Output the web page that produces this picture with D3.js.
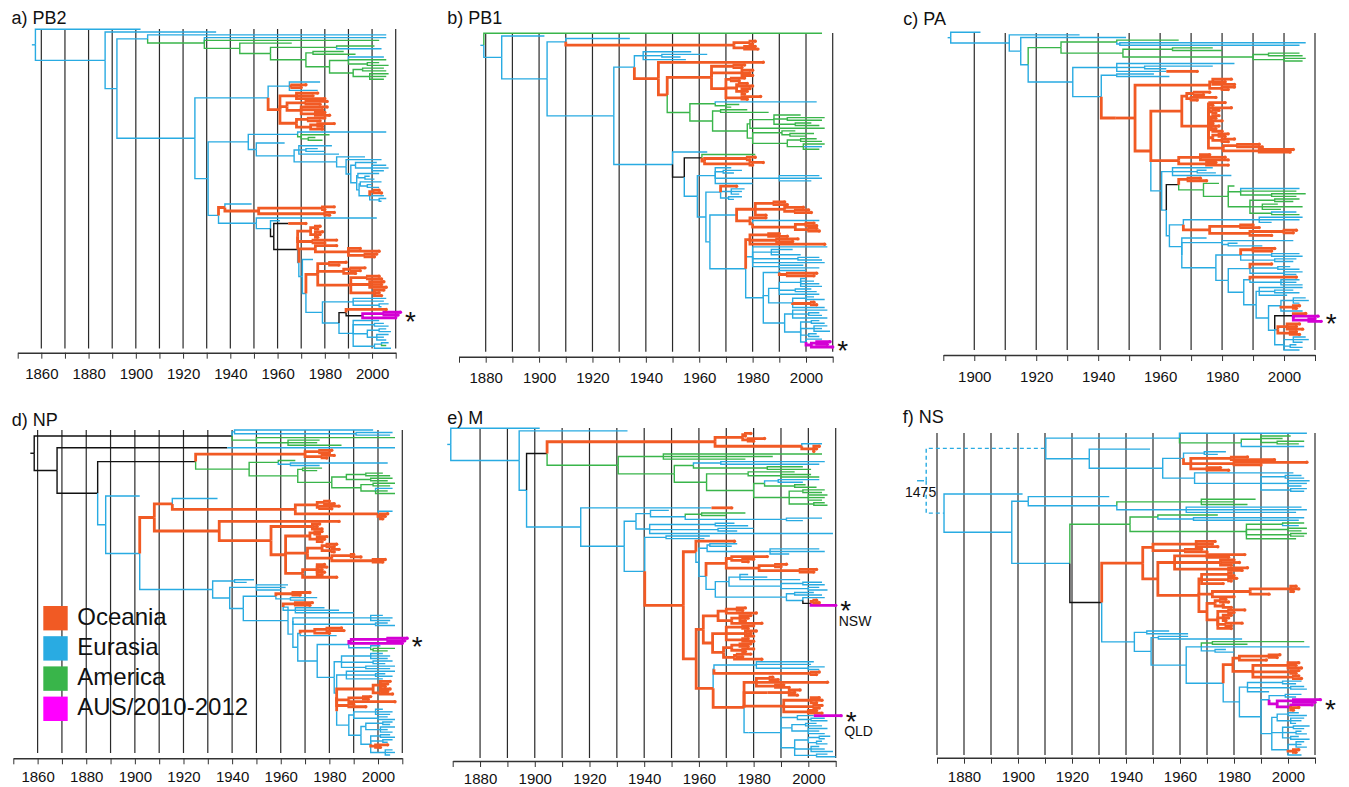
<!DOCTYPE html>
<html>
<head>
<meta charset="utf-8">
<script src="https://cdn.jsdelivr.net/npm/d3@7"></script>
<style>
  body { margin: 0; background: #fff; }
  svg { display: block; }
</style>
</head>
<body>
<svg id="chart" width="1349" height="787"></svg>
<script>
// ---- data ----
// trees are written newick-style: (child,child)xYEAR, x = region of the branch
// o Oceania, b Eurasia, g America, m AUS/2010-2012, k unresolved (black)
var panelTitles = ["a) PB2", "b) PB1", "c) PA", "d) NP", "e) M", "f) NS"];
var panelDomains = [[1850, 2010], [1870, 2010], [1890, 2010], [1850, 2010], [1870, 2010], [1870, 2010]];
var gridStarts = [1860, 1880, 1900, 1860, 1880, 1870];
var regions = ["Oceania", "Eurasia", "America", "AUS/2010-2012"];
var regionCodes = ["o", "b", "g", "m"];
var cladeNotes = [[], [], [], [], ["NSW", "QLD"], []];
var nsRootLabel = "1475";

// PB2
var pb2Green = `(b2006,(b2006,g2003,(g1966,((g2001,b2004)g1985,((g1988,g1993)g1975,((b2005,g2006,(g2003,g2007)g1998)g1990,((g2005,g2006)g1996,(g2007,g2006,g2005)g1999)g1992)g1982)g1972)g1957)g1944)g1929)b1905`;
var pb2Red1 = `((b1978,(o1972,o1970)o1966,b1977)b1965,((o1977,o1975,o1980)o1968,((o1981,o1978)o1972,(o1981,o1979,(o1980,o1982)o1976)o1970)o1964,((o1980,o1978)o1973,((o1984,o1979)o1977,o1979)o1974)o1968)o1961)b1956`;
var pb2Blue1 = `((b2006,(g1982,(g1976,g1979)g1973)g1970)b1968.5,(b1963,((b1983,(b1977,b1980)b1972,b1986)b1969,(b1997,(b2004,((b2002,(b2006,b2007,b2005)b2000)b1993,((b2003,(b1999,b2001)b1997)b1994,((b2004,(b2000,b2003)b1998)b1995,((o2003,o2004)o2001,b2005,(b2006,b2004)b2003)b1999)b1994.5)b1993.5)b1991)b1989)b1985)b1967)b1951)b1947.6`;
var pb2Red2 = `(b1949,((o1984,o1980)o1979,(o1984,o1982)o1980)o1952)o1937.7`;
var pb2Red3 = `(((o1978,o1977)o1976,(o1979,o1978,o1977)o1976)o1974,(o1985,o1980)o1975)o1968.5`;
var pb2Blue2 = `((o1985,(o1995,o2003,(o2002,o2001)o1997)o1990)o1976,(b1975,(((o1989,o1986)o1982,((o1997,o1995)o1991,o1993)o1988,((o2003,o2004)o1998,(o2005,o2004,o2006)o1999,(o2005,o2003,o2004)o2001)o1991)o1977,((b2006,b2005,(b2007,b2004)b2003)b1992,((o2006,(((m2012,m2011)m2005,m2010)m1996)k1996)k1989,(b2003,(b2005,b2007)b2001,((b2006,b2008)b2003,(b2007,b2005,b2006)b2002)b1998,((b2007,g2006)b2004,b2008)b2001)b1992)b1986)b1979)b1972)b1970.5)b1969`;
var pb2Low = `(b2002,(b1961,((o1972)k1964.5,(${pb2Red3},${pb2Blue2})k1968.5)k1958.4)b1957)b1951`;
var pb2Tree = `((b1902,(b1934,(${pb2Green},(${pb2Red1},(${pb2Blue1},(${pb2Red2},${pb2Low})b1935)b1930.6)b1925)b1892)b1887)b1857.5)b1856`;

// PB1
var pb1Green = `((b2004,(g1975,g1972)g1970)g1966,((g1978,g1986)g1968,(((g1998,(g2007,g2006)g1993,(g2002,g2005)g1996)g1988,g2007)g1979,((g1996,(g2003,g2000)g1994)g1991,((g2004,g2006)g1998,(g2007,b2006,g2005)g1999)g1993)g1980)g1978)g1965)g1956.5`;
var pb1Up = `((b1957,(b1963,b1953)b1946,b1955)b1939,(o1984,(((o1977,o1976)o1973,(o1980,o1979,o1980)o1976,((o1977,o1975)o1972,((o1978,o1980)o1975,(o1979,o1978,o1977)o1976)o1974,(o1983,o1978)o1976)o1970)o1964.6,${pb1Green})o1948)o1944.7)b1935.7`;
var pb1Red = `(((o1992,o1993)o1988,(o1999,(o2001,o2002)o1996)o1992,o1985)o1981,(o1985,(b2005,((o2003,o2004)o2000,(o2004,o2005)o2001)o1996)o1980)o1979)o1974`;
var pb1Bot = `((b2000,(o2004,o2003)o1993)b1990,(((b2000,b2003,b2005,b2006)b1998,(b2002,b2004)b1996,b2005)b1990,((b2003,b2007)b2000,(o2003,o2004)o2002,b2007)b1995)b1986,((b2008,(b2005,b2006)b2001,b2008)b1995,((b2005,b2007)b2002,(b2008,b2006,b2009)b2003,(b2004,b2005)b2001,(b2006,((m2009,m2008)m2004,m2010)m2002)b2000)b1998)b1992)b1984`;
var pb1Down = `(b1963,((g1981,((o1981,o1979)o1978,(o1984,o1980)o1979)o1962)k1961,((b1972,(b1976,b1973)b1969,(b2005,b2006,b2002)b1990,b1980)b1966,((o1974,(b1977,b1976,b1975)b1972,(b1976,b1973)b1971)b1968,((${pb1Red})b1974,(((o1990,o1993)o1986,(o1997,o1995)o1989,o2007)o1979,(b2008,(b1995,b1990,b1998)b1987,(b2005,b2006)b1997,b2007,(b1999,b2005)b1990)b1980,${pb1Bot})b1977.4)b1964)b1962.5)b1959.3)k1954.4)b1950`;
var pb1Tree = `((g2006,(b1902,((b1934,((o1981,o1980)o1979,(o1981,o1982)o1977)o1973)b1910,(${pb1Up},${pb1Down})b1928)b1903)b1886)b1879.3)b1878`;

// PA
var paGreen = `((g1966,(b2007,b2005)b1947)g1946,((g1977,g1980)g1964,((g2005,g2006)g1995,(g2007,g2006)g2000)g1990)g1948)g1928`;
var paRed1 = `(((o1976,o1974)o1971,(o1978,o1972)o1970)o1968.6,((o1981,o1977)o1976,(o1983,(o1979,o1978)o1977)o1976,((o1979,o1978)o1977,(o1980,o1977,o1979)o1977,(o1978,o1980)o1977)o1976.5,((o1982,o1981)o1979,(o1984,o1982)o1980)o1977,((o1992,o1993)o1985,(o2003,o2002)o1992)o1980.4)o1975.6)o1967`;
var paRed2 = `((o1976,o1981,o1982)o1973,(o1978,o1982)o1975)o1966`;
var paGreen2 = `(g1979,(g1984,(b2005,g2004,(g2007,g2004)g1996)g1986,((g2005,g2003)g1997,(g1998,g2006,g1999)g1993,(b2004,g2005)g1996)g1989)g1982)g1974`;
var paBlue2 = `(((b2006,b2005,b1996)b1992,((o1990,o1992)o1986,((o2004,o2003)o2000,o1996)o1989)o1976)b1967.5,(b1975,((b2003,(b1985,b1993)b1982)b1980,(((o1997,o1996)o1990,(b2005,b2006)b1996,(b2004,b2003)b1997)b1986,((o1996,(b2002,b2005)b1998,(b2006,b2004)b2000)b1989,((o2004,(b2005,b2004,b2006)b1999)b1989,((b2006,(b2003,b2005)b1997,b2001)b1992,(((b2007,b2008,b2005)b2003,(o2005,o2004)o2003,b2006)b1999,((o2007,(m2011,(m2010,m2012)m2008)m2003)k2003,((o2005,o2004,o2006)o2001,(o2004,o2005)o2002)b1998,((b2007,b2008,b2006)b2003,(b2004,b2006)b2002,b2005)b2000)b1997)b1995)b1991)b1987)b1982)b1978)b1967)b1967)b1963`;
var paBlue = `((b1977,(b1975,b1978)b1972,b1983)b1964,(((o1973,o1975)o1969,${paGreen2})k1966,${paBlue2})b1962)b1960.5`;
var paTree = `((b1902,(b1934,(b1949,(${paGreen},((b1984,(b1977,b1962)b1955,(o1972)b1962)b1946,((b1958,b1963)b1946,((((o1983,o1981,o1984)o1977,(o1984,o1982)o1980)o1976,(${paRed1},${paRed2},${paBlue})o1957)o1951.9)o1945.7)b1941)b1931.8)b1917.4)b1915)b1911.3)b1892.4)b1891.4`;

// NP
var npTop = `((b1998,(b2006,b2005)b1991)b1941,(g2007,(g1976,g1975,g1985)g1963)g1950)k1940`;
var npRed1 = `(((o1981,o1980)o1976,(o1982,o1979)o1977)o1970,((g1966,(b2004,b1976)b1964)g1959,((g1977,g1975)g1969,(((g2002,g2005)g1995,(g2006,g2004)g1997)g1987,((g2007,g2005)g1998,(b2006,g2004,g2007)g1999)g1993)g1981)g1967)g1947)k1925`;
var npRed2 = `((b1934,(((o1980,o1982)o1978,(o1984,o1981)o1976)o1975,(b2006,(o2004,o2003,o2002)o2001)o2000)o1966)o1915.4,(o1984,((o1976,o1975,o1977)o1973,(((o1977,o1976)o1974,(o1979,o1978,o1977)o1975)o1972,(((o1983,o1982)o1979,(o1984,o1982)o1981)o1977,((o1990,o1993)o1989,(o2003,o2002)o1998)o1981)o1971,((o1978,o1979,o1977,o1978,o1977)o1975,o1983)o1969)o1962)o1956)o1934.7)o1908`;
var npBlue = `((b1949,b1946)b1941,((b1963,b1962,b1960)b1950,(((o1972,o1968)o1965,(b1975,b1970)b1964)b1958,(((o1973,o1972)o1966,(b1978,b1984,b1990)b1966)b1961,(((b2002,b2006,b2005)b1997,(b2004,b2007)b1999)b1965,((((o1985,o1986)o1979,o1980)o1974,b1983)b1968,((((m2012,m2011)m2004,m2010)m1989,(b2001,(g2007,g2004)g1998)b1997)b1988,(((b2002,b2005,b2004)b1997,(b2006,b2003)b1998,(b2007,b2005)b1995)b1985,((b2007,(b2003,b2006)b1999,b2002)b1987,((((o2005,o2004,o2003,o2005)o2001,(o2004,o2006)o2001)o1998,((o1997,o1996)o1994,o2007)o1988,(o1990,o1995)o1988)o1983,(((b2002,b2006,b2005)b1999,(b2004,b2007)b2000)b1990,(((b2006,b2005)b2002,(b2007,b2004,b2006)b2001)b1995,((b2005,b2007)b2001,(b2006,b2004)b2002,(o2004,o2001)o1999,(b2006,b2007,b2005)b2003)b1997)b1993)b1988)b1983)b1983)b1982)b1975)b1967)b1965)b1963)b1944.6)b1939)b1932`;
var npTree = `((${npTop},((b2007)k1938,(${npRed1},(b1902,(${npRed2},${npBlue})b1902)b1888)k1884.7)k1868)k1858.6)k1857`;

// M
var mRed1 = `(((o1979,o1977)o1977,(o1984,o1980)o1978)o1976,(b2005,(o2004,o2003,o2002)o2002)o1997.6)o1965.9`;
var mGreen = `((g2005,g1987,g1977)g1947,(((b2006,b2004)b1968,(g1998,g2001)g1985)g1958,((g1995,(g2001,g2004)g1990)g1978,(((b2004,b1998)b1989,(g1999,g2003)g1995)g1984,((g2006,g2005)g1998,(g2007,g2006,g2005)g2000,(g2006,g2007)g2002)g1993)g1980)g1962.8)g1951)g1930.5`;
var mBlue1 = `((b1949,((g1977,g1970)g1961,(b2005,b1998)b1992)b1955)b1942.3,((b1973,b1978)b1966,(b1980,b1974)b1967,b2009)b1942)b1937`;
var mNsw = `(o1973,(((b1974,b1972)b1964,(b2004,b2006,b1993)b1986)b1963,(((o1985,(o1980,o1978)o1976)o1972,((o1992,o1990)o1988,(o2003,o2002)o1997)o1982)o1970,(((b1978,b1985,b1997)b1975,((b2005,b2006)b1998,(b2004,b2007)b2000)b1990)b1971,((b2002,b2005)b1995,(b2006,((o2003,o2004)o2002,m2010)k2001)b1998)b1992)b1966)b1962.6)b1960)o1958.9`;
var mRed2 = `((((o1977,o1976)o1974,o1981)o1970,((o1979,o1978,o1977)o1975,o1983)o1972)o1967,(((o1980,o1978)o1976,(o1981,o1979,o1980)o1977,(o1978,o1980)o1976)o1970,(((o1979,o1978)o1975,(o1980,o1977)o1976)o1972,((o1979,o1976)o1974,o1983)o1973)o1969)o1965)o1961.6`;
var mQld = `(((o1987,o1989)o1986,o2007,(o1991,o1993)o1988)o1981,((o1997,o1995,o1996)o1993)o1985,((o2004,o2005,o2003)o2001,(o2005,o2004)o2002,(o2003,o2005)o2000)o1991,((((m2012)b2002,(b2006,b2007)b2001)b1996,((b2003,b2005)b1999,(b2007,b2004,b2006)b2000)b1994,(((b2008,b2006)b2004,(b2005,b2007)b2003)b2000,(b2004,b2006,b2009)b2001,(b2007,b2010)b2003)b1995)b1990)b1978.2)o1976.5`;
var mRed = `(${mNsw},(${mRed2},(((b2002,b2001,(b2006,b2004)b2000)b1981,(o2004,o2003)o2001)b1965.5,${mQld})o1965.2)o1959)o1954.3`;
var mBlue = `((o1972)b1964.6,(${mBlue1},((b1964,b1962)b1948,${mRed})b1940.2)b1932.7)b1916.8`;
var mTree = `((b1901.8,(b1933.9,((${mRed1},${mGreen})k1904.5,${mBlue})b1897)b1894.3)b1869.3)b1868`;

// NS (root at 1475, drawn on a broken axis)
var nsTop = `((b2007,((g2001,g1998,(g2006,g2004)g1996)g1990,b2006)g1982.7)b1959.8,(b1948.9,(((b1977,b1974)b1969,((o1985,o1995)o1979,(o2007,o1990)o1980,(o1975,o1978)o1970)o1964)b1961.3,(b2002,((b2005,b2006)b1999,(b2008,b2007,b2005)b2000,(b2007,b2006)b2001)b1990)b1965.4)b1953.6)b1926.4)b1910.3`;
var nsRed = `(((o1973,o1972,o1974)o1966,(o1968,o1970)o1962)o1950,(((o1984,o1978)o1970,(o1980,o1982,o1979)o1975,(o1985,o1983)o1978)o1958,(((o1979,o1980)o1978,(o1981,o1979)o1978,o1976)o1968,(((o2003,o2004,o2002)o2001,o1993)o1986,o1980)o1972,(((o1977,o1978)o1975,(o1976,o1979)o1976)o1973,((o1984,o1980)o1978,(o1979,o1978,o1977)o1976,(o1983,o1979)o1977,o1979)o1974)o1970)o1967)o1951.8)o1946.2`;
var nsBlue = `((b1956,b1963)b1947.7,((b1963,b1983)b1952,(((g2006,g1985)g1972,b2008,(b1977,b1980)b1973)b1967.9,((((o1997,o1996)o1993,o1992)o1982,((o2004,o2003,o2005)o2000,(o2004,o2003)o2001,(o2004,o2005)o2002)o1987)o1979.6,(((b2005,b2003)b1998,(b2006,b2007)b2001,b1993)b1985,(((b2005,b2003)b1999,((m2012,m2010)m2002,(m2009,(o2004,o2002)o2001)m2001)m1996)b1993,(((b2004,b2007)b2000,(b2006,b2005,b2003)b2001)b1996,((b2008,b2006)b2002,(b2005,b2007)b2003,(b2004,b2008)b2001)b1998,((b2006,b2005,b2007)b2003,(o2004,o2003)o2002,b2005)b2000)b1994)b1990)b1982)b1976)b1962.3)b1949.3)b1943.1`;
var nsBottom = `(b1901.7,((b1933.8,((g1988,g1980,g1985)g1967.9,(b2005,b2007,b2003)b1962.3)b1936.6)b1903.8,(((g1974,(b2006,b2004)b1965)g1951.8,((g2006,b2004)g1998,(g2007,g2005)g2000,(g2007,g2006)g2001,g2003)g1984.6)g1941.5,(${nsRed},${nsBlue})k1931)b1919.2)b1897.7)b1872.6`;
var nsTree = `(${nsTop},${nsBottom})b1475`;

var trees = [pb2Tree, pb1Tree, paTree, npTree, mTree, nsTree];

// ---- layout / style ----
var layout = [
  {x0: 17.7,  x1: 395.7, top: 29.3,  bottom: 348.3, gTop: 29,  gBot: 348.5, axisY: 352.7, pad: 10, tx: 11.5,  ty: 23.5},
  {x0: 459,   x1: 832.7, top: 33.3,  bottom: 347,   gTop: 33,  gBot: 351.7, axisY: 356.7, pad: 10, tx: 447.3, ty: 24.3},
  {x0: 943.3, x1: 1315,  top: 32.3,  bottom: 350,   gTop: 33,  gBot: 350,   axisY: 355,   pad: 10, tx: 903.3, ty: 25},
  {x0: 13.3,  x1: 402.3, top: 430,   bottom: 755,   gTop: 430, gBot: 753,   axisY: 758.3, pad: 7.5, tx: 11.7,  ty: 425.7},
  {x0: 452.7, x1: 835.7, top: 428.3, bottom: 756.7, gTop: 428, gBot: 758,   axisY: 761,   pad: 6.5, tx: 447.3, ty: 424.3},
  {x0: 937,   x1: 1315,  top: 433.3, bottom: 755,   gTop: 433, gBot: 755,   axisY: 757.7, pad: 7.5, tx: 902.7, ty: 423.3}
];
var nsRootDraw = {year: 1866, stubFrom: 1862.6, stubTo: 1865.2};
var colors = {o: "#f15a24", b: "#29abe2", g: "#39b54a", m: "#d400d4", k: "#111111"};
var legendColors = {o: "#f15a24", b: "#29abe2", g: "#39b54a", m: "#ff00ff"};
var widths = {o: 2.8, m: 2.8, b: 1.4, g: 1.4, k: 1.4};
var font = "'Liberation Sans', Arial, Helvetica, sans-serif";

function parseTree(s) {
  s = s.replace(/\s+/g, "");
  var i = 0;
  function node() {
    var n = {children: []};
    if (s[i] === "(") {
      i++;
      n.children.push(node());
      while (s[i] === ",") { i++; n.children.push(node()); }
      if (s[i] !== ")") throw new Error("bad tree near " + s.slice(i, i + 20));
      i++;
    }
    var m = /^([a-z])(\d+(?:\.\d+)?)/.exec(s.slice(i));
    if (!m) throw new Error("bad label near " + s.slice(i, i + 20));
    n.c = m[1]; n.t = +m[2];
    i += m[0].length;
    return n;
  }
  var r = node();
  if (i !== s.length) throw new Error("trailing text " + s.slice(i, i + 20));
  return r;
}

var svg = d3.select("#chart");

trees.forEach(function(str, p) {
  var L = layout[p];
  var dom = panelDomains[p];
  var g = svg.append("g");
  var x = d3.scaleLinear().domain(dom).range([L.x0, L.x1]);

  var root = d3.hierarchy(parseTree(str), function(d) { return d.children.length ? d.children : null; });
  var leaves = root.leaves();
  leaves.forEach(function(d, i) { d.k = i; });
  root.eachAfter(function(d) {
    if (d.children) d.k = (d.children[0].k + d.children[d.children.length - 1].k) / 2;
  });
  var y = d3.scaleLinear().domain([0, leaves.length - 1]).range([L.top, L.bottom]);
  var isNs = p === 5;
  function nx(d) { return (isNs && !d.parent) ? x(nsRootDraw.year) : x(d.data.t); }

  // grid
  g.append("g").selectAll("line")
    .data(d3.range(gridStarts[p], dom[1] + 1, 10))
    .join("line")
      .attr("x1", function(d) { return x(d); })
      .attr("x2", function(d) { return x(d); })
      .attr("y1", L.gTop)
      .attr("y2", L.gBot)
      .attr("stroke", "#2a2a2a")
      .attr("stroke-width", 1.2);

  // axis
  var axis = d3.axisBottom(x)
    .tickValues(d3.range(dom[0], dom[1] + 1, 10))
    .tickFormat(function(d) { return d % 20 === 0 ? d : ""; })
    .tickSize(6).tickSizeOuter(0).tickPadding(L.pad);
  var axG = g.append("g")
    .attr("transform", "translate(0," + L.axisY + ")")
    .call(axis)
    .attr("font-size", 15)
    .attr("font-family", font);
  axG.select(".domain").attr("stroke", "#333").attr("stroke-width", 1.6);
  axG.selectAll(".tick line").attr("stroke", "#333").attr("stroke-width", 1);
  axG.selectAll(".tick text").attr("fill", "#111");

  // branches: elbow from parent to child, coloured by child
  var links = root.descendants().filter(function(d) { return d.parent; });
  links.sort(function(a, b) { return widths[a.data.c] - widths[b.data.c]; });
  g.append("g").selectAll("path")
    .data(links)
    .join("path")
      .attr("d", function(d) {
        return "M" + nx(d.parent) + "," + y(d.parent.k) + "V" + y(d.k) + "H" + nx(d);
      })
      .attr("fill", "none")
      .attr("stroke", function(d) { return colors[d.data.c]; })
      .attr("stroke-width", function(d) { return widths[d.data.c]; })
      .attr("stroke-dasharray", function(d) { return (isNs && !d.parent.parent) ? "4,3" : null; });

  // tip blobs on Oceania / AUS tips
  g.append("g").selectAll("circle")
    .data(leaves.filter(function(d) { return d.data.c === "o" || d.data.c === "m"; }))
    .join("circle")
      .attr("cx", nx)
      .attr("cy", function(d) { return y(d.k); })
      .attr("r", 1.7)
      .attr("fill", function(d) { return colors[d.data.c]; });

  // broken root of NS
  if (isNs) {
    g.append("line")
      .attr("x1", x(nsRootDraw.stubFrom)).attr("x2", x(nsRootDraw.stubTo))
      .attr("y1", y(root.k)).attr("y2", y(root.k))
      .attr("stroke", colors.b).attr("stroke-width", 1.4);
    g.append("text")
      .attr("x", x(nsRootDraw.year) + 10)
      .attr("y", y(root.k) + 16.5)
      .attr("text-anchor", "end")
      .attr("font-family", font)
      .attr("font-size", 14)
      .attr("fill", "#111")
      .text(nsRootLabel);
  }

  // asterisks on the AUS clades
  var clades = root.descendants().filter(function(d) {
    return d.data.c === "m" && d.parent && d.parent.data.c !== "m";
  });
  clades.sort(function(a, b) { return a.k - b.k; });
  clades.forEach(function(c, i) {
    var tipX = d3.max(c.leaves(), nx);
    var cy = y(c.k);
    g.append("text")
      .attr("x", tipX + 10)
      .attr("y", cy + 15)
      .attr("text-anchor", "middle")
      .attr("font-family", font)
      .attr("font-size", 28)
      .attr("fill", "#111")
      .text("*");
    if (cladeNotes[p][i]) {
      g.append("text")
        .attr("x", tipX + 3)
        .attr("y", cy + 20.5)
        .attr("font-family", font)
        .attr("font-size", 14)
        .attr("fill", "#111")
        .text(cladeNotes[p][i]);
    }
  });

  // panel title
  g.append("text")
    .attr("x", L.tx)
    .attr("y", L.ty)
    .attr("font-family", font)
    .attr("font-size", 18)
    .attr("fill", "#111")
    .text(panelTitles[p]);
});

// legend (sits in panel d)
var lg = {x: 43.3, y: 606, size: 24.4, step: 30.2, textX: 77.3, fs: 24};
var leg = svg.append("g").selectAll("g")
  .data(regions)
  .join("g")
    .attr("transform", function(d, i) { return "translate(0," + (lg.y + i * lg.step) + ")"; });
leg.append("rect")
  .attr("x", lg.x).attr("y", 0)
  .attr("width", lg.size).attr("height", lg.size)
  .attr("fill", function(d, i) { return legendColors[regionCodes[i]]; });
leg.append("text")
  .attr("x", lg.textX).attr("y", 18.5)
  .attr("font-family", font)
  .attr("font-size", lg.fs)
  .attr("fill", "#111")
  .text(function(d) { return d; });
</script>
</body>
</html>
